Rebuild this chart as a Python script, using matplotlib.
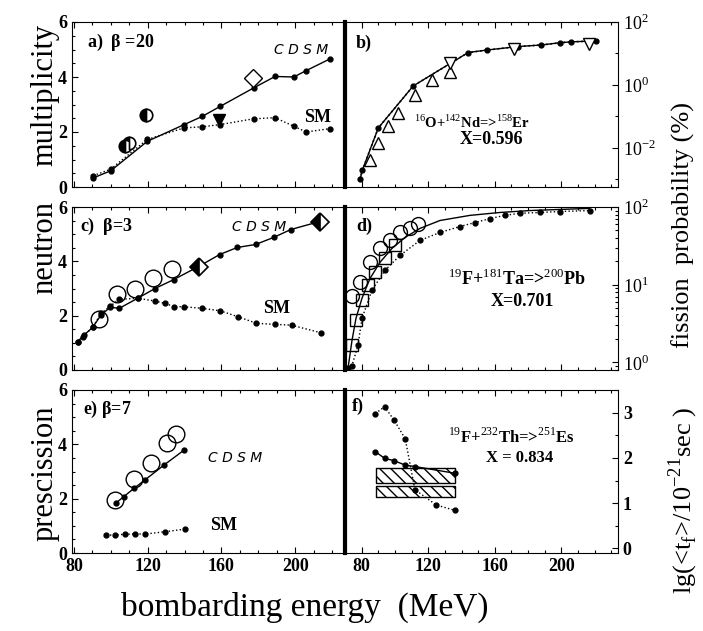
import matplotlib
matplotlib.use("Agg")
import matplotlib.pyplot as plt
from matplotlib.ticker import MultipleLocator, LogLocator, NullFormatter, FixedLocator

plt.rcParams['font.family'] = ['Liberation Serif', 'DejaVu Serif']
plt.rcParams['mathtext.fontset'] = 'custom'
plt.rcParams['mathtext.rm'] = 'Liberation Serif'
plt.rcParams['mathtext.bf'] = 'Liberation Serif:bold'

# ---- panel a (beta=20) ----
a_cdsm_e = [90.5, 100, 119.8, 139.8, 149.7, 159.3, 177.4, 189.1, 199.2, 205.9, 218.6]
a_cdsm_v = [0.33, 0.59, 1.66, 2.27, 2.57, 2.93, 3.6, 4.02, 4.0, 4.23, 4.65]
a_sm_e = [90.5, 100, 119.8, 139.8, 149.7, 159.3, 177.4, 189.1, 199.2, 205.9, 218.6]
a_sm_v = [0.41, 0.65, 1.73, 2.15, 2.19, 2.27, 2.48, 2.52, 2.21, 2.0, 2.12]
a_halfc_e = [108, 110, 119]
a_halfc_v = [1.49, 1.59, 2.63]
a_tri_e = [158.8]
a_tri_v = [2.45]
a_dia_e = [177]
a_dia_v = [3.96]

# ---- panel b (16O+142Nd) ----
b_calc_e = [79, 80.5, 90, 111, 144, 155.5, 174, 188, 199, 206, 221]
b_calc_v = [1.0e-3, 2.0e-3, 4.3e-2, 0.93, 10.7, 12.9, 16.6, 18.6, 21.9, 23.4, 25.1]
b_tup_e = [85, 90, 96, 102, 112, 122, 133]
b_tup_v = [4.2e-3, 1.4e-2, 4.8e-2, 0.126, 0.48, 1.45, 2.6]
b_tdn_e = [133, 171.5, 216.5]
b_tdn_v = [5.0, 13.5, 19.5]

# ---- panel c (beta=3) ----
c_cdsm_e = [82, 85.6, 90.2, 94.7, 99.7, 104.6, 114.6, 124, 134.2, 149, 159, 168.6, 178.5, 188.3, 197.6, 212.4]
c_cdsm_v = [1.04, 1.29, 1.57, 2.02, 2.31, 2.27, 2.64, 3.0, 3.33, 3.86, 4.25, 4.51, 4.62, 4.88, 5.17, 5.45]
c_sm_e = [82, 84.7, 90.2, 94.7, 99.7, 104.6, 114.6, 124, 129.5, 134.5, 139.6, 149.6, 159.3, 169, 179, 188.9, 198, 214]
c_sm_v = [1.04, 1.22, 1.57, 2.08, 2.35, 2.6, 2.64, 2.54, 2.45, 2.33, 2.33, 2.27, 2.18, 1.96, 1.72, 1.68, 1.65, 1.37]
c_circ_e = [93.8, 103.4, 113.2, 122.8, 133.1]
c_circ_v = [1.86, 2.79, 2.97, 3.37, 3.71]
c_dia_e = [147.6, 213.3]
c_dia_v = [3.78, 5.45]

# ---- panel d (19F+181Ta) ----
d_calc_e = [71.8, 74.2, 76.6, 80.2, 85, 91, 98.2, 106, 115, 127, 145, 163, 181, 199, 217]
d_calc_v = [0.84, 1.92, 3.7, 6.7, 12.0, 19.4, 29.3, 40.5, 53, 67, 78, 85, 90, 93, 96]
d_sm_e = [71.8, 74.2, 77.8, 80.2, 86.2, 94, 103, 115, 127, 139, 148, 157, 166, 175, 187, 199, 217]
d_sm_v = [0.84, 0.91, 1.66, 3.7, 8.5, 15.3, 23.8, 37.1, 47, 56, 63, 71, 78, 83, 85, 87.5, 90]
d_circ_e = [74.2, 79, 85, 91, 97, 103, 109, 113.8]
d_circ_v = [7.1, 10.7, 19.4, 29.3, 37.1, 47, 53, 60]
d_sq_e = [74.2, 76.6, 80.2, 83.8, 88, 94, 100]
d_sq_v = [1.66, 3.5, 6.3, 9.8, 14.4, 21.8, 32]

# ---- panel e (beta=7) ----
e_cdsm_e = [103, 107, 112.6, 118.4, 128.9, 139.8]
e_cdsm_v = [1.85, 2.07, 2.38, 2.68, 3.24, 3.79]
e_sm_e = [97.6, 102.1, 107.5, 113.3, 118.8, 129.3, 140.2]
e_sm_v = [0.66, 0.66, 0.69, 0.7, 0.7, 0.78, 0.88]
e_circ_e = [102.1, 112.6, 121.7, 130.7, 135.6]
e_circ_v = [1.95, 2.71, 3.32, 4.06, 4.38]

# ---- panel f (19F+232Th) ----
f_upper_e = [88.2, 93.8, 99.4, 106.2, 112, 124.8, 136.2]
f_upper_v = [2.98, 3.13, 2.84, 2.42, 1.30, 0.96, 0.84]
f_lower_e = [88.2, 93.8, 99.4, 106.2, 111.9, 136.2]
f_lower_v = [2.14, 1.99, 1.94, 1.84, 1.81, 1.66]
f_band_e = [88.8, 136.2]
f_band1 = [1.45, 1.77]
f_band2 = [1.14, 1.38]

W, H = 703, 631
fig = plt.figure(figsize=(W / 100, H / 100), dpi=100)


def box(x0, top, x1, bottom):
    return [x0 / W, 1 - bottom / H, (x1 - x0) / W, (bottom - top) / H]


rows = [(22, 187), (207, 370), (390, 553)]
axL = [fig.add_axes(box(72, t, 345, b)) for t, b in rows]
axR = [fig.add_axes(box(345, t, 618, b)) for t, b in rows]

tickfont = dict(family='Liberation Serif', weight='bold', size=13)

for i, ax in enumerate(axL):
    ax.set_xlim(79, 227)
    ax.set_ylim(0, 6)
    ax.xaxis.set_major_locator(FixedLocator([80, 120, 160, 200]))
    ax.xaxis.set_minor_locator(MultipleLocator(10))
    ax.yaxis.set_major_locator(MultipleLocator(2))
    ax.yaxis.set_minor_locator(MultipleLocator(0.5))
    ax.tick_params(which='both', direction='in', top=True, right=False, width=0.8)
    ax.tick_params(which='major', length=4)
    ax.tick_params(which='minor', length=2.5)
    for lab in ax.get_yticklabels():
        lab.set(**tickfont)
    if i < 2:
        ax.set_xticklabels([])
    else:
        for lab in ax.get_xticklabels():
            lab.set(**tickfont)
    ax.spines['right'].set_visible(False)

for i, ax in enumerate(axR):
    ax.set_xlim(70, 234)
    ax.xaxis.set_major_locator(FixedLocator([80, 120, 160, 200]))
    ax.xaxis.set_minor_locator(MultipleLocator(10))
    ax.tick_params(which='both', direction='in', top=True, left=False, right=True,
                   labelleft=False, labelright=True, width=0.8)
    ax.tick_params(which='major', length=4)
    ax.tick_params(which='minor', length=2.5)
    ax.spines['left'].set_linewidth(3)
    if i < 2:
        ax.set_xticklabels([])

# log axes on the right
axR[0].set_yscale('log')
axR[0].set_ylim(5.7e-4, 100)
axR[0].yaxis.set_major_locator(FixedLocator([1e-2, 1, 100]))
axR[0].set_yticklabels([r'$10^{-2}$', r'$10^{0}$', r'$10^{2}$'])
axR[0].yaxis.set_minor_locator(LogLocator(subs=[1.0], numticks=20))
axR[0].yaxis.set_minor_formatter(NullFormatter())

axR[1].set_yscale('log')
axR[1].set_ylim(0.8, 100)
axR[1].yaxis.set_major_locator(FixedLocator([1, 10, 100]))
axR[1].set_yticklabels([r'$10^{0}$', r'$10^{1}$', r'$10^{2}$'])
axR[1].yaxis.set_minor_formatter(NullFormatter())

axR[2].set_ylim(-0.1, 3.5)
axR[2].yaxis.set_major_locator(MultipleLocator(1))
axR[2].yaxis.set_minor_locator(MultipleLocator(0.5))

for ax in axR:
    for lab in ax.get_yticklabels():
        lab.set(family='Liberation Serif', size=13)
for lab in axR[2].get_xticklabels():
    lab.set(**tickfont)
for lab in axR[2].get_yticklabels():
    lab.set(weight='bold')

dot = dict(marker='o', ms=3.5, color='black')
lab_kw = dict(family='Liberation Serif', weight='bold', size=13)
cdsm_kw = dict(family='DejaVu Sans', style='italic', size=10)

# a
ax = axL[0]
ax.plot(a_cdsm_e, a_cdsm_v, '-', lw=1, **dot)
ax.plot(a_sm_e, a_sm_v, ':', lw=1, **dot)
ax.plot(a_halfc_e, a_halfc_v, 'o', ms=9, mfc='black', mfcalt='white', mec='black', fillstyle='left', mew=1.2)
ax.plot(a_tri_e, a_tri_v, 'v', ms=8, color='black')
ax.plot(a_dia_e, a_dia_v, 'D', ms=9, mfc='white', mec='black', mew=1)
ax.text(0.055, 0.875, r'a)  $\mathbf{\beta}$ =20', transform=ax.transAxes, va='center', **lab_kw)
ax.text(0.84, 0.83, 'C D S M', transform=ax.transAxes, ha='center', va='center', **cdsm_kw)
ax.text(0.9, 0.42, 'SM', transform=ax.transAxes, ha='center', va='center', **lab_kw)

# b
ax = axR[0]
ax.plot(b_calc_e, b_calc_v, '-', lw=1, **dot)
ax.plot(b_calc_e, b_calc_v, ':', lw=1.2, color='black')
ax.plot(b_tup_e, b_tup_v, '^', ms=8, mfc='white', mec='black', mew=1)
ax.plot(b_tdn_e, b_tdn_v, 'v', ms=8, mfc='white', mec='black', mew=1)
ax.text(0.04, 0.87, 'b)', transform=ax.transAxes, va='center', **lab_kw)
ax.text(0.465, 0.394, r'$^{16}$O+$^{142}$Nd=>$^{158}$Er', transform=ax.transAxes,
        ha='center', va='center', family='Liberation Serif', weight='bold', size=10.5)
ax.text(0.535, 0.285, 'X=0.596', transform=ax.transAxes, ha='center', va='center', **lab_kw)

# c
ax = axL[1]
ax.plot(c_cdsm_e, c_cdsm_v, '-', lw=1, **dot)
ax.plot(c_sm_e, c_sm_v, ':', lw=1, **dot)
ax.plot(c_circ_e, c_circ_v, 'o', ms=12, mfc='none', mec='black', mew=1)
ax.plot(c_dia_e, c_dia_v, 'D', ms=9, mfc='black', mfcalt='white', mec='black', fillstyle='left', mew=1.2)
ax.text(0.03, 0.88, r'c)  $\mathbf{\beta}$=3', transform=ax.transAxes, va='center', **lab_kw)
ax.text(0.685, 0.88, 'C D S M', transform=ax.transAxes, ha='center', va='center', **cdsm_kw)
ax.text(0.75, 0.38, 'SM', transform=ax.transAxes, ha='center', va='center', **lab_kw)

# d
ax = axR[1]
ax.plot(d_calc_e, d_calc_v, '-', lw=1, color='black')
ax.plot(d_sm_e, d_sm_v, ':', lw=1, **dot)
ax.plot(d_circ_e, d_circ_v, 'o', ms=10, mfc='none', mec='black', mew=1)
ax.plot(d_sq_e, d_sq_v, 's', ms=9, mfc='none', mec='black', mew=1)
ax.text(0.04, 0.88, 'd)', transform=ax.transAxes, va='center', **lab_kw)
ax.text(0.63, 0.56, r'$^{19}$F+$^{181}$Ta=>$^{200}$Pb', transform=ax.transAxes,
        ha='center', va='center', **lab_kw)
ax.text(0.65, 0.42, 'X=0.701', transform=ax.transAxes, ha='center', va='center', **lab_kw)

# e
ax = axL[2]
ax.plot(e_cdsm_e, e_cdsm_v, '-', lw=1, **dot)
ax.plot(e_sm_e, e_sm_v, ':', lw=1, **dot)
ax.plot(e_circ_e, e_circ_v, 'o', ms=12, mfc='none', mec='black', mew=1)
ax.text(0.04, 0.88, r'e) $\mathbf{\beta}$=7', transform=ax.transAxes, va='center', **lab_kw)
ax.text(0.5, 0.58, 'C D S M', transform=ax.transAxes, va='center', **cdsm_kw)
ax.text(0.505, 0.17, 'SM', transform=ax.transAxes, va='center', **lab_kw)

# f
ax = axR[2]
ax.plot(f_upper_e, f_upper_v, ':', lw=1, **dot)
ax.plot(f_lower_e, f_lower_v, '-', lw=1, **dot)
ax.fill_between(f_band_e, f_band1[0], f_band1[1], facecolor='white', edgecolor='black',
                hatch='\\\\\\', lw=1)
ax.fill_between(f_band_e, f_band2[0], f_band2[1], facecolor='white', edgecolor='black',
                hatch='\\\\\\', lw=1)
ax.text(0.025, 0.9, 'f)', transform=ax.transAxes, va='center', **lab_kw)
ax.text(0.61, 0.71, r'$^{19}$F+$^{232}$Th=>$^{251}$Es', transform=ax.transAxes,
        ha='center', va='center', family='Liberation Serif', weight='bold', size=12)
ax.text(0.64, 0.585, 'X = 0.834', transform=ax.transAxes, ha='center', va='center',
        family='Liberation Serif', weight='bold', size=12)

# axis titles
fig.text(305 / W, 1 - 607 / H, 'bombarding energy  (MeV)', ha='center', va='center',
         family='Liberation Serif', size=24)
for word, yc in [('multiplicity', 95), ('neutron', 248), ('prescission', 473)]:
    fig.text(45 / W, 1 - yc / H, word, ha='center', va='center', rotation=90,
             family='Liberation Serif', size=22)
fig.text(683 / W, 1 - 225 / H, 'fission  probability (%)', ha='center', va='center',
         rotation=90, family='Liberation Serif', size=19)
fig.text(683 / W, 1 - 500 / H, r'lg(<t$_{\rm f}$>/10$^{-21}$sec )', ha='center', va='center',
         rotation=90, family='Liberation Serif', size=19)

fig.savefig('out.png', dpi=100)
